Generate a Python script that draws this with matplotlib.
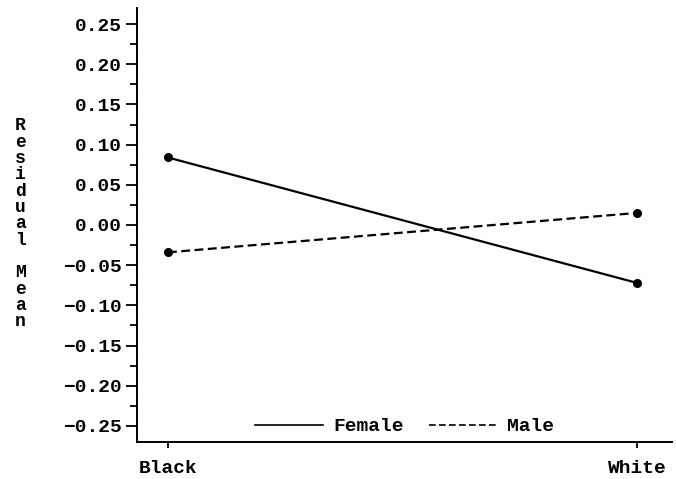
import matplotlib
matplotlib.use("Agg")
import matplotlib.pyplot as plt
import numpy as np
from matplotlib.ticker import MultipleLocator, FuncFormatter

# data
categories = ["Black", "White"]
female = [0.084, -0.072]
male = [-0.034, 0.015]
y_label = "Residual Mean"

plt.rcParams.update(
    {
        "font.family": ["Liberation Mono", "DejaVu Sans Mono"],
        "font.weight": "bold",
        "font.size": 14,
        "axes.linewidth": 1.4,
    }
)

fig = plt.figure(figsize=(6.76, 4.79), dpi=100)
ax = fig.add_axes([137 / 676, 1 - 442 / 479, (672 - 137) / 676, (442 - 8) / 479])

x = np.arange(len(categories))
ax.plot(x, female, color="black", lw=1.6, marker="o", ms=5.5, label="Female")
ax.plot(x, male, color="black", lw=1.6, ls=(0, (4, 2)), marker="o", ms=5.5, label="Male")

ax.set_xlim(-0.066, 1.075)
ax.set_xticks(x)
ax.set_xticklabels(categories, fontsize=14, fontweight="bold")
ax.yaxis.set_major_locator(MultipleLocator(0.05))
ax.yaxis.set_minor_locator(MultipleLocator(0.025))
ax.yaxis.set_major_formatter(
    FuncFormatter(lambda v, _: f"{v:.2f}".replace("-", "\u2212") if abs(v) > 1e-9 else "0.00")
)
ax.set_ylim(-0.27, 0.27)
ax.tick_params(axis="y", which="major", length=8, width=1.3, pad=3, labelsize=14)
ax.tick_params(axis="y", which="minor", length=5, width=1.3)
ax.tick_params(axis="x", which="major", length=4, width=1.3, pad=9)

for side in ("top", "right"):
    ax.spines[side].set_visible(False)

leg = ax.legend(
    loc="lower center",
    bbox_to_anchor=(0.5, -0.025),
    ncol=2,
    frameon=False,
    handlelength=3.5,
    handletextpad=0.5,
    columnspacing=1.3,
    prop={"size": 14, "weight": "bold"},
)
for h in leg.legend_handles:
    h.set_marker("")
    h.set_linewidth(1.2)

# stacked vertical y-axis label, one letter per row
y0, step = 1 - 126 / 479, 16.3 / 479
for i, ch in enumerate(y_label):
    if ch != " ":
        fig.text(20 / 676, y0 - i * step, ch, ha="center", va="center", fontsize=13, fontweight="bold")

fig.savefig("out.png", dpi=100)
